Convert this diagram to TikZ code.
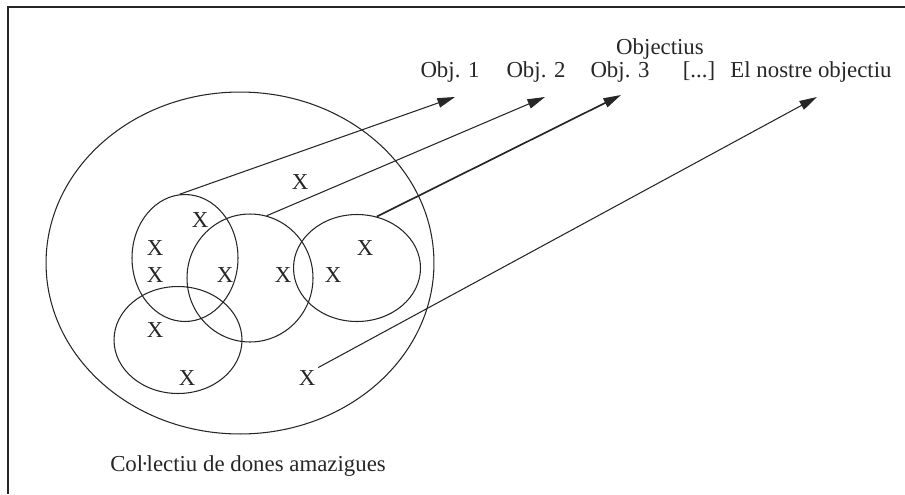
\documentclass[tikz,border=0pt]{standalone}
\usepackage{fontspec}
\setmainfont{Liberation Serif}
\usepackage{tikz}
\usetikzlibrary{shapes.geometric, arrows.meta, positioning}
\tikzstyle{setring}   = [ellipse, draw=black!85, line width=0.6pt, inner sep=0pt]
\tikzstyle{member}    = [inner sep=1.5pt, text=black!85]
\tikzstyle{objtext}   = [anchor=base, inner sep=0pt, text=black!85]
\tikzstyle{arrow}     = [-{Triangle[length=10pt, width=5.5pt]}, line width=0.6pt, draw=black!85]
\tikzstyle{bigarrow}  = [arrow, line width=0.95pt]

\begin{document}
\begin{tikzpicture}[x=0.02cm, y=-0.02cm, every node/.style={font=\fontsize{13}{15}\selectfont}]
  \useasboundingbox (0,0) rectangle (905,494);
  \draw[line width=1.1pt, black!85] (8,494) -- (8,7) -- (905,7);

  % the collective and its groups
  \node[setring, minimum width=7.76cm, minimum height=6.84cm] (pop) at (240,263) {};
  \node[setring, minimum width=2.12cm, minimum height=2.54cm] (grpA) at (185,258) {};
  \node[setring, minimum width=2.52cm, minimum height=2.56cm] (grpB) at (250,278) {};
  \node[setring, minimum width=2.54cm, minimum height=2.14cm] (grpC) at (357,268) {};
  \node[setring, minimum width=2.56cm, minimum height=2.14cm] (grpD) at (178,340) {};

  % members
  \node[member] (m1)  at (300,182) {X};
  \node[member] (m2)  at (200,220) {X};
  \node[member] (m3)  at (155,248) {X};
  \node[member] (m4)  at (155,275) {X};
  \node[member] (m5)  at (225,275) {X};
  \node[member] (m6)  at (283,275) {X};
  \node[member] (m7)  at (333,275) {X};
  \node[member] (m8)  at (365,248) {X};
  \node[member] (m9)  at (155,330) {X};
  \node[member] (m10) at (187,378) {X};
  \node[member] (m11) at (307,378) {X};

  % objectives
  \node[objtext] (objs) at (660,54) {Objectius};
  \node[objtext] (o1) at (450,77) {Obj. 1};
  \node[objtext] (o2) at (536,77) {Obj. 2};
  \node[objtext] (o3) at (620,77) {Obj. 3};
  \node[objtext] (o4) at (699,77) {[...]};
  \node[objtext] (o5) at (811,77) {El nostre objectiu};
  \node[objtext] (coll) at (248,471) {Col\kern-1.2pt·\kern-1.2pt lectiu de dones amazigues};

  \coordinate (t1) at (455,97);
  \coordinate (t2) at (545,97);
  \coordinate (t3) at (621,95);
  \coordinate (t4) at (817,97);

  \draw[arrow] (grpA.95) -- (t1);
  \draw[arrow] (grpB.75) -- (t2);
  \draw[bigarrow] (grpC.69) -- (t3);
  \draw[arrow] (m11.north east) -- (t4);
\end{tikzpicture}
\end{document}
